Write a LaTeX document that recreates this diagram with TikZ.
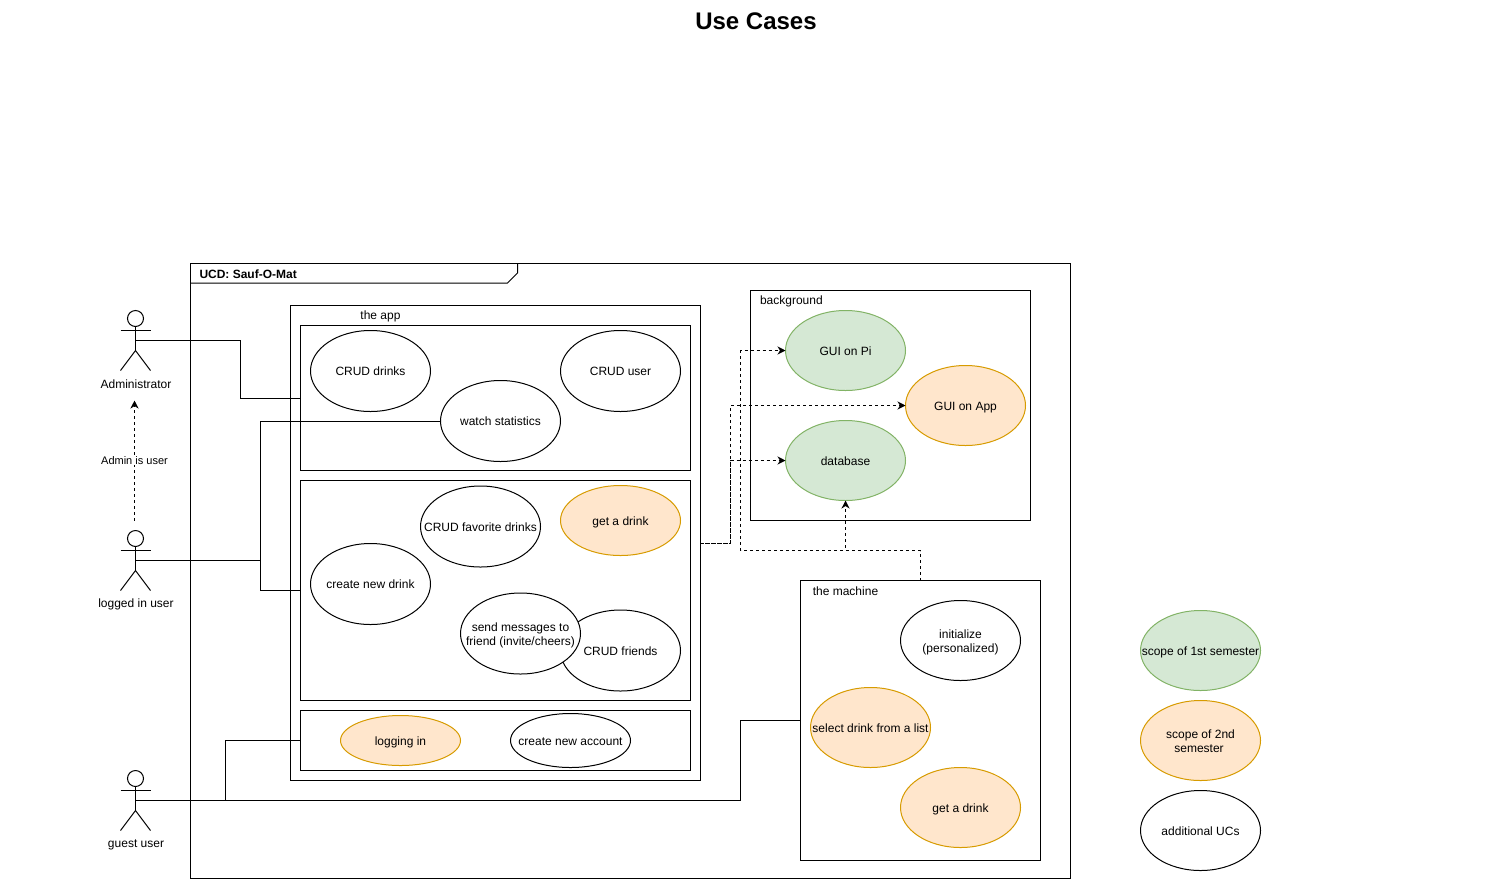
\documentclass[tikz,border=0pt]{standalone}
\usepackage{fontspec}
\setmainfont{Liberation Sans}
\usetikzlibrary{arrows.meta,shapes.geometric}
\definecolor{gfill}{HTML}{D5E8D4}
\definecolor{gline}{HTML}{82B366}
\definecolor{ofill}{HTML}{FFE6CC}
\definecolor{oline}{HTML}{D79B00}
\newcommand{\one}[1]{\raisebox{-4.5pt}[0pt][0pt]{\makebox[0pt][c]{#1}}}
\newcommand{\two}[2]{\raisebox{2.5pt}[0pt][0pt]{\makebox[0pt][c]{#1}}\llap{\raisebox{-11.5pt}[0pt][0pt]{\makebox[0pt][c]{#2}}}}
\tikzset{
  base/.style={line width=1pt,outer sep=0pt,inner sep=0pt,font=\fontsize{12}{14}\selectfont,align=center},
  box/.style={base,draw=black,anchor=north west},
  uc/.style={base,ellipse,draw=black,fill=white,minimum width=120pt,minimum height=80pt},
  green/.style={uc,draw=gline,fill=gfill},
  orange/.style={uc,draw=oline,fill=ofill},
  lbl/.style={base},
  conn/.style={line width=1pt,line join=miter},
  dep/.style={line width=1pt,dash pattern=on 3pt off 3pt,-{Stealth[length=8pt,width=8pt,inset=2.5pt]}},
  stick/.style={line width=1pt}
}
\newcommand{\stickman}[2]{%
  \draw[stick] (#1,#2-22) circle (8pt);
  \draw[stick] (#1,#2-14) -- (#1,#2+10);
  \draw[stick] (#1-15,#2-10) -- (#1+15,#2-10);
  \draw[stick] (#1-15,#2+30) -- (#1,#2+10) -- (#1+15,#2+30);
}
\begin{document}
\begin{tikzpicture}[x=1pt,y=-1pt]
\useasboundingbox (-0.5,-0.5) rectangle (1510.5,878.5);
\node[base,font=\fontsize{24}{28}\selectfont\bfseries] (title) at (755.5,21) {Use Cases};

% frame
\node[box,minimum width=880pt,minimum height=615pt] (frame) at (190,262.5) {};
\draw[line width=1pt] (frame.north west) ++(0,20) coordinate (tabA) -- ++(317,0) -- ++(10,-10) -- ++(0,-10);
\node[base,anchor=west,font=\fontsize{12}{14}\selectfont\bfseries] (ucd) at (199,274) {UCD: Sauf-O-Mat};

% containers
\node[box,minimum width=410pt,minimum height=475pt] (app) at (290,305) {};
\node[lbl] (applabel) at (380,316) {the app};
\node[box,minimum width=390pt,minimum height=145pt] (boxA) at (300,325) {};
\node[box,minimum width=390pt,minimum height=220pt] (boxB) at (300,480) {};
\node[box,minimum width=390pt,minimum height=60pt] (boxC) at (300,710) {};
\node[box,minimum width=280pt,minimum height=230pt] (bg) at (750,290) {};
\node[lbl,anchor=west] (bglabel) at (759.5,301) {background};
\node[box,minimum width=240pt,minimum height=280pt] (machine) at (800,580) {};
\node[lbl] (machinelabel) at (845,591) {the machine};

% actors
\stickman{135}{340}
\stickman{135}{560}
\stickman{135}{800}
\coordinate (admin) at (135,340);
\coordinate (user) at (135,560);
\coordinate (guest) at (135,800);
\node[lbl] (adminlabel) at (135.5,384) {Administrator};
\node[lbl] (userlabel) at (135.5,604) {logged in user};
\node[lbl] (guestlabel) at (135.5,844) {guest user};

% solid connectors
\coordinate (j1) at (240,340);
\coordinate (j2) at (260,560);
\coordinate (j3) at (225,800);
\coordinate (j4) at (740,800);
\draw[conn] (admin) -- (j1) |- (boxA.west);
\draw[conn] (user) -- (j2) |- (boxB.west);
\draw[conn] (guest) -- (j3) |- (boxC.west);
\draw[conn] (guest) -- (j4) |- (machine.west);

% use cases
\node[uc,minimum height=81pt] (cruddrinks) at (370,370.5) {\one{CRUD drinks}};
\node[uc,minimum height=81pt] (cruduser) at (620,370.5) {\one{CRUD user}};
\node[uc,minimum height=81pt] (stats) at (500,420.5) {\one{watch statistics}};
\draw[conn] (stats.west) -| (j2);
\node[uc,minimum height=81pt] (crudfav) at (480,526) {\one{CRUD favorite drinks}};
\node[orange,minimum height=70pt] (getdrinkA) at (620,520) {\one{get a drink}};
\node[uc,minimum height=81pt] (newdrink) at (370,583.5) {\one{create new drink}};
\node[uc,minimum height=81pt] (crudfriends) at (620,650) {\one{CRUD friends}};
\node[uc,minimum height=81pt] (send) at (520,633) {\two{send messages to}{friend (invite/cheers)}};
\node[orange,minimum height=50pt] (login) at (400,740) {\one{logging in}};
\node[uc,minimum height=54pt] (newacct) at (570,740) {\one{create new account}};
\node[green] (guipi) at (845,350) {\one{GUI on Pi}};
\node[orange] (guiapp) at (965,405) {\one{GUI on App}};
\node[green] (db) at (845,460) {\one{database}};
\node[uc,minimum height=80pt] (init) at (960,640) {\two{initialize}{(personalized)}};
\node[orange] (select) at (870,727) {\one{select drink from a list}};
\node[orange] (getdrinkB) at (960,807) {\one{get a drink}};
\node[green] (leg1) at (1200,650) {\one{scope of 1st semester}};
\node[orange] (leg2) at (1200,740) {\two{scope of 2nd}{\hspace{-3pt}semester}};
\node[uc] (leg3) at (1200,830) {\one{additional UCs}};

% dashed connectors
\coordinate (appout) at (700,542.5);
\coordinate (d1) at (730,542.5);
\coordinate (d2) at (920,550);
\coordinate (machtop) at (920,580);
\coordinate (usertop) at (134,520);
\coordinate (admbot) at (134,400);
\draw[dep] (appout) -- (d1) |- (guiapp.west);
\draw[dep,dash phase=1.5pt] (appout) -- (d1) |- (db.west);
\draw[dep] (machtop) -- (d2) -| (db.south);
\draw[dep] (machtop) -- (d2) -| (740,350) -- (guipi.west);
\draw[dep] (usertop) -- node[lbl,fill=white,font=\fontsize{11}{13}\selectfont,inner sep=0.5pt] (admnote) {Admin is user} (admbot);
\end{tikzpicture}
\end{document}
